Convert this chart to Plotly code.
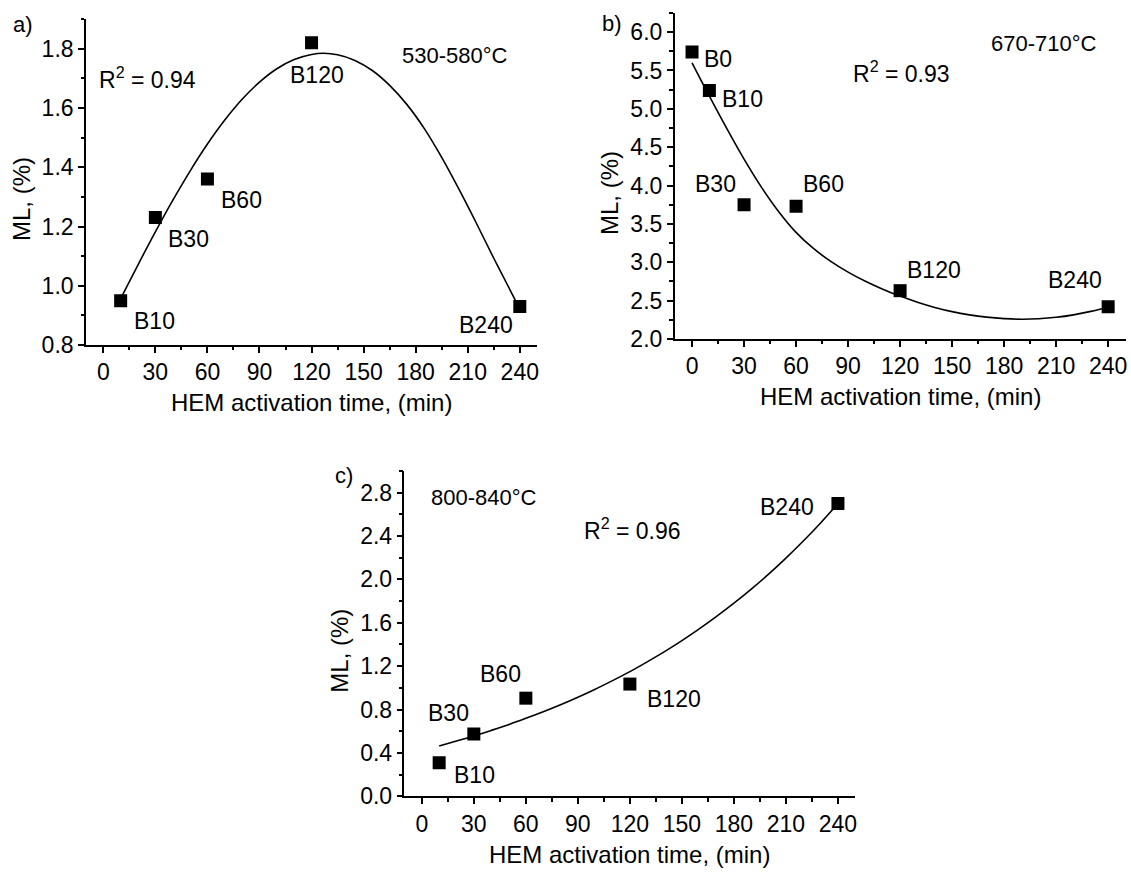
import plotly.graph_objects as go

W, H = 1131, 881

# ---------------- data ----------------
time_a = [10, 30, 60, 120, 240]
ml_a = [0.95, 1.23, 1.36, 1.82, 0.93]
labels_a = ["B10", "B30", "B60", "B120", "B240"]
fit_a_x = [10, 20, 30, 40, 50, 60, 70, 80, 90, 100, 110, 120, 127, 135, 145, 155,
           165, 175, 185, 195, 205, 215, 225, 235, 240]
fit_a_y = [0.957, 1.071, 1.182, 1.288, 1.387, 1.478, 1.559, 1.629, 1.687, 1.732,
           1.763, 1.780, 1.784, 1.779, 1.760, 1.726, 1.676, 1.611, 1.530, 1.433,
           1.325, 1.211, 1.093, 0.979, 0.922]

time_b = [0, 10, 30, 60, 120, 240]
ml_b = [5.74, 5.24, 3.75, 3.73, 2.63, 2.42]
labels_b = ["B0", "B10", "B30", "B60", "B120", "B240"]
fit_b_x = [0, 10, 20, 30, 40, 50, 60, 70, 80, 90, 100, 110, 120, 130, 140, 150, 160,
           170, 180, 190, 200, 210, 220, 230, 240]
fit_b_y = [5.60, 5.165, 4.745, 4.345, 3.98, 3.66, 3.39, 3.18, 3.012, 2.872, 2.752,
           2.649, 2.56, 2.48, 2.412, 2.357, 2.315, 2.285, 2.266, 2.258, 2.264, 2.283,
           2.315, 2.36, 2.418]

time_c = [10, 30, 60, 120, 240]
ml_c = [0.31, 0.575, 0.905, 1.035, 2.70]
labels_c = ["B10", "B30", "B60", "B120", "B240"]
fit_c_x = [10, 20, 30, 40, 50, 60, 70, 80, 90, 100, 110, 120, 130, 140, 150, 160,
           170, 180, 190, 200, 210, 220, 230, 240]
fit_c_y = [0.465, 0.510, 0.557, 0.608, 0.661, 0.719, 0.780, 0.845, 0.914, 0.988,
           1.067, 1.150, 1.240, 1.334, 1.435, 1.543, 1.658, 1.780, 1.910, 2.048,
           2.196, 2.353, 2.520, 2.699]

x_ticks = [0, 30, 60, 90, 120, 150, 180, 210, 240]
x_title = "HEM activation time, (min)"
y_title = "ML, (%)"
temps = ["530-580°C", "670-710°C", "800-840°C"]
r2 = ["0.94", "0.93", "0.96"]
panel_tags = ["a)", "b)", "c)"]

# ---------------- styling / layout helpers ----------------
FONT = "Liberation Sans, Arial, sans-serif"
def P(px, py):
    return px / W, 1 - py / H

def dom(x0, x1, y0, y1):
    return [x0 / W, x1 / W], [1 - y1 / H, 1 - y0 / H]

panels = [
    dict(box=(86.1, 538.1, 19.2, 350.3), yr=[0.8, 1.9], ydt=0.2, y0=0.8, ymin=0.1),
    dict(box=(675.9, 1127.5, 13.1, 344.1), yr=[2.0, 6.25], ydt=0.5, y0=2.0, ymin=0.25),
    dict(box=(405.2, 856.8, 477.9, 808.3), yr=[0.0, 3.0], ydt=0.4, y0=0.0, ymin=0.2),
]

fig = go.Figure()
series = [(time_a, ml_a, fit_a_x, fit_a_y), (time_b, ml_b, fit_b_x, fit_b_y),
          (time_c, ml_c, fit_c_x, fit_c_y)]
layout = {}
for i, (p, (tx, ty, fx, fy)) in enumerate(zip(panels, series)):
    sfx = "" if i == 0 else str(i + 1)
    xd, yd = dom(*p["box"])
    axis_common = dict(showline=True, linecolor="black", linewidth=1.5,
                       ticks="outside", ticklen=6, tickwidth=1.5, tickcolor="black",
                       showgrid=False, zeroline=False,
                       tickfont=dict(family=FONT, size=23, color="black"))
    layout["xaxis" + sfx] = dict(axis_common, domain=xd, anchor="y" + sfx,
                                 range=[-10, 250], tickvals=x_ticks,
                                 minor=dict(ticks="outside", ticklen=3.5, tickwidth=1.5,
                                            tickcolor="black", tick0=15, dtick=30,
                                            showgrid=False))
    layout["yaxis" + sfx] = dict(axis_common, domain=yd, anchor="x" + sfx,
                                 range=p["yr"], tick0=p["y0"], dtick=p["ydt"],
                                 tickformat=".1f",
                                 minor=dict(ticks="outside", ticklen=3.5, tickwidth=1.5,
                                            tickcolor="black", tick0=p["y0"],
                                            dtick=p["ymin"], showgrid=False))
    fig.add_trace(go.Scatter(x=fx, y=fy, mode="lines",
                             line=dict(color="black", width=1.6, shape="spline",
                                       smoothing=1.0),
                             xaxis="x" + sfx, yaxis="y" + sfx, showlegend=False,
                             hoverinfo="skip"))
    fig.add_trace(go.Scatter(x=tx, y=ty, mode="markers",
                             marker=dict(symbol="square", size=13, color="black",
                                         line=dict(width=0)),
                             xaxis="x" + sfx, yaxis="y" + sfx, showlegend=False))

annotations = []
def txt(text, px, py, size=23, xanchor="center", angle=0):
    x, y = P(px, py)
    annotations.append(dict(text=text, x=x, y=y, xref="paper", yref="paper",
                            xanchor=xanchor, yanchor="middle", showarrow=False,
                            textangle=angle,
                            font=dict(family=FONT, size=size, color="black")))

# point labels (centre positions in pixels)
label_pos = [
    [(155, 326), (189, 243), (242, 203), (317.5, 76), (487, 330)],
    [(719, 60), (744, 100), (717, 187), (825, 187), (935.5, 274), (1076.5, 284)],
    [(475, 787), (449, 724), (501, 684), (675.5, 709), (788.5, 515)],
]
for labs, poss in zip([labels_a, labels_b, labels_c], label_pos):
    for lab, (px, py) in zip(labs, poss):
        txt(lab, px, py, size=23)

# temperature ranges and R^2
txt(temps[0], 401, 56, size=22, xanchor="left")
txt(temps[1], 991, 44, size=22, xanchor="left")
txt(temps[2], 430, 505, size=22, xanchor="left")
txt("R<sup>2</sup> = " + r2[0], 97, 79, size=23, xanchor="left")
txt("R<sup>2</sup> = " + r2[1], 853, 73, size=23, xanchor="left")
txt("R<sup>2</sup> = " + r2[2], 583, 537, size=23, xanchor="left")

# panel tags
txt(panel_tags[0], 23, 25, size=22)
txt(panel_tags[1], 613, 24, size=22)
txt(panel_tags[2], 345, 483, size=22)

# axis titles
txt(x_title, 312, 409, size=24)
txt(x_title, 902, 402, size=24)
txt(x_title, 631, 867, size=24)
txt(y_title, 21, 202, size=24, angle=-90)
txt(y_title, 610, 196, size=24, angle=-90)
txt(y_title, 340, 660, size=24, angle=-90)

fig.update_layout(width=W, height=H, autosize=False,
                  margin=dict(l=0, r=0, t=0, b=0),
                  paper_bgcolor="white", plot_bgcolor="white",
                  annotations=annotations, **layout)

fig.write_html("out.html")
